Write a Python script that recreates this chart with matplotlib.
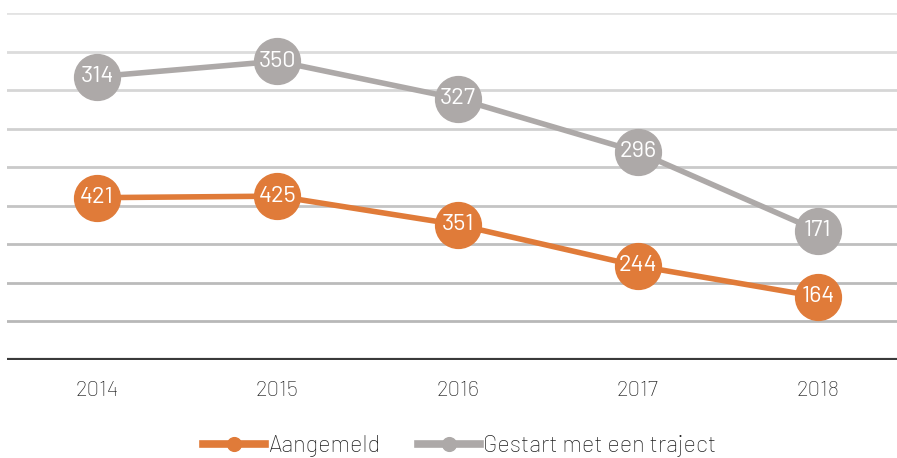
import matplotlib.pyplot as plt
import numpy as np

# data
years = ["2014", "2015", "2016", "2017", "2018"]
aangemeld = [421, 425, 351, 244, 164]
gestart = [314, 350, 327, 296, 171]

orange = "#E07B39"
grey = "#ADA9A8"

plt.rcParams["font.family"] = ["Barlow", "DejaVu Sans"]

fig = plt.figure(figsize=(8.97, 4.58), dpi=100)
ax = fig.add_axes([7 / 897, 98 / 458, 901 / 897, 347 / 458])

x = np.arange(len(years))
stacked = np.array(aangemeld) + np.array(gestart)  # stacked line chart

# gridlines, lighter towards the top
grid_cols = ["#e3e3e3", "#dcdcdc", "#d6d6d6", "#d0d0d0", "#cacaca",
             "#c4c4c4", "#bfbfbf", "#bbbbbb", "#b8b8b8"]
for i, c in enumerate(grid_cols[::-1]):
    ax.axhline((i + 1) * 100, color=c, lw=2, zorder=0)
ax.axhline(0, color="#3a3a3a", lw=3, zorder=1)

ax.plot(x, aangemeld, color=orange, lw=4, marker="o", ms=33,
        label="Aangemeld", zorder=3)
ax.plot(x, stacked, color=grey, lw=4, marker="o", ms=33,
        label="Gestart met een traject", zorder=2)

for xi, yi, v in zip(x, aangemeld, aangemeld):
    ax.text(xi, yi, str(v), color="white", fontsize=17, ha="center",
            va="center", zorder=4)
for xi, yi, v in zip(x, stacked, gestart):
    ax.text(xi, yi, str(v), color="white", fontsize=17, ha="center",
            va="center", zorder=4)

ax.set_xlim(-0.5, 4.5)
ax.set_ylim(0, 900)
ax.set_xticks(x)
ax.set_xticklabels(years, fontsize=16, color="#1e1e1e", fontweight="light")
ax.tick_params(axis="x", length=0, pad=15)
ax.set_yticks([])
for s in ax.spines.values():
    s.set_visible(False)

leg = fig.legend(loc="center", bbox_to_anchor=(460 / 897, 12 / 458), ncol=2,
                 frameon=False, handlelength=2.6,
                 handletextpad=0.15, columnspacing=1.6, markerscale=0.3,
                 prop={"family": "Barlow", "weight": "light", "size": 17},
                 labelcolor="#1e1e1e")
for h in leg.legend_handles:
    h.set_linewidth(5.5)

fig.savefig("out.png", dpi=100)
